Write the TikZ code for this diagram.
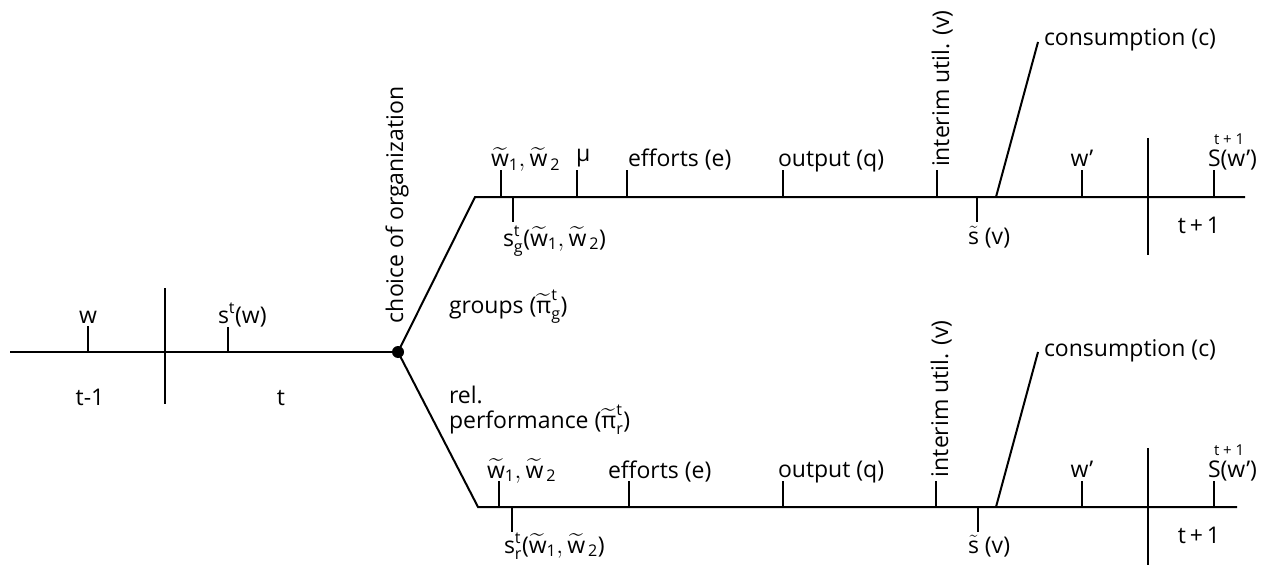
\documentclass[tikz,border=0pt]{standalone}
\usepackage{amsmath}
\usepackage{fontspec}
\setmainfont{Open Sans}
\newcommand{\tw}{\widetilde{\text{w}}}
\newcommand{\tpi}{\widetilde{\text{π}}}

\begin{document}
\begin{tikzpicture}[x=1pt,y=-1pt,line width=2pt,
    lbl/.style={inner sep=0pt,font=\fontsize{23}{27}\selectfont},
    sml/.style={inner sep=0pt,font=\fontsize{15}{18}\selectfont}]
  \useasboundingbox (0,0) rectangle (1266,567);
  % periods t-1 and t
  \draw (10,352) -- (398,352);
  \draw (165,288) -- (165,404);
  \draw (88,352) -- ++(0,-26) (228,352) -- ++(0,-25);
  \node[lbl,anchor=base] (w) at (88,323) {w};
  \node[lbl,anchor=base west] (sw) at (217,323) {s\textsuperscript{t}(w)};
  \node[lbl,anchor=base] (tm) at (90,405) {t-1};
  \node[lbl,anchor=base] (tt) at (281,405) {t};
  \node[circle,fill,inner sep=0pt,minimum size=12pt] (split) at (398,352) {};
  \node[lbl,rotate=90,anchor=base west] (choice) at (403,324) {choice of organization};
  % the two branches
  \coordinate (ga) at (475,197);
  \coordinate (ra) at (478,507);
  \draw (split.center) -- (ga) -- (1245,197);
  \draw (split.center) -- (ra) -- (1237,507);
  \node[lbl,anchor=base west] (grp) at (448,313) {groups ($\tpi^{\text{t}}_{\text{g}}$)};
  \node[lbl,anchor=base west] (rel) at (448,403) {rel.};
  \node[lbl,anchor=base west] (perf) at (448,428) {performance ($\tpi^{\text{t}}_{\text{r}}$)};
  % groups branch
  \foreach \x in {501,577,627,783,937,1082,1214}
    \draw (\x,197) -- ++(0,-27);
  \draw (513,197) -- ++(0,25) (977,197) -- ++(0,25);
  \draw (996,197) -- (1038,42);
  \draw (1148,138) -- (1148,255);
  \node[lbl,anchor=base west] (gw) at (490,167) {$\tw_{\text{1}},\tw_{\,\text{2}}$};
  \node[lbl,anchor=base west] (gmu) at (575,161) {μ};
  \node[lbl,anchor=base west] (ge) at (627,167) {efforts (e)};
  \node[lbl,anchor=base west] (gq) at (777,167) {output (q)};
  \node[lbl,rotate=90,anchor=base west] (gv) at (949,168) {interim util. (v)};
  \node[lbl,anchor=base west] (gc) at (1043,46) {consumption (c)};
  \node[lbl,anchor=base west] (gs) at (502,246) {$\text{s}^{\text{t}}_{\text{g}}$($\tw_{\text{1}},\tw_{\,\text{2}}$)};
  \node[lbl,anchor=base west] (gsv) at (967,244) {$\tilde{\text{s}}$ (v)};
  \node[lbl,anchor=base] (gw2) at (1082,167) {w’};
  \node[lbl,anchor=base west] (gS) at (1207,167) {S(w’)};
  \node[sml,anchor=base west] (gSt) at (1213,145) {t + 1};
  \node[lbl,anchor=base] (gt) at (1199,233) {t\,+\,1};
  % relative performance branch
  \foreach \x in {499,629,783,936,1082,1214}
    \draw (\x,507) -- ++(0,-26);
  \draw (512,507) -- ++(0,25) (978,507) -- ++(0,25);
  \draw (996,507) -- (1038,352);
  \draw (1148,448) -- (1148,565);
  \node[lbl,anchor=base west] (rw) at (486,478) {$\tw_{\text{1}},\tw_{\,\text{2}}$};
  \node[lbl,anchor=base west] (re) at (607,478) {efforts (e)};
  \node[lbl,anchor=base west] (rq) at (777,477) {output (q)};
  \node[lbl,rotate=90,anchor=base west] (rv) at (948,478) {interim util. (v)};
  \node[lbl,anchor=base west] (rc) at (1043,356) {consumption (c)};
  \node[lbl,anchor=base west] (rs) at (503,553) {$\text{s}^{\text{t}}_{\text{r}}$($\tw_{\text{1}},\tw_{\,\text{2}}$)};
  \node[lbl,anchor=base west] (rsv) at (967,553) {$\tilde{\text{s}}$ (v)};
  \node[lbl,anchor=base] (rw2) at (1082,477) {w’};
  \node[lbl,anchor=base west] (rS) at (1207,477) {S(w’)};
  \node[sml,anchor=base west] (rSt) at (1213,455) {t + 1};
  \node[lbl,anchor=base] (rt) at (1199,543) {t\,+\,1};
\end{tikzpicture}
\end{document}
